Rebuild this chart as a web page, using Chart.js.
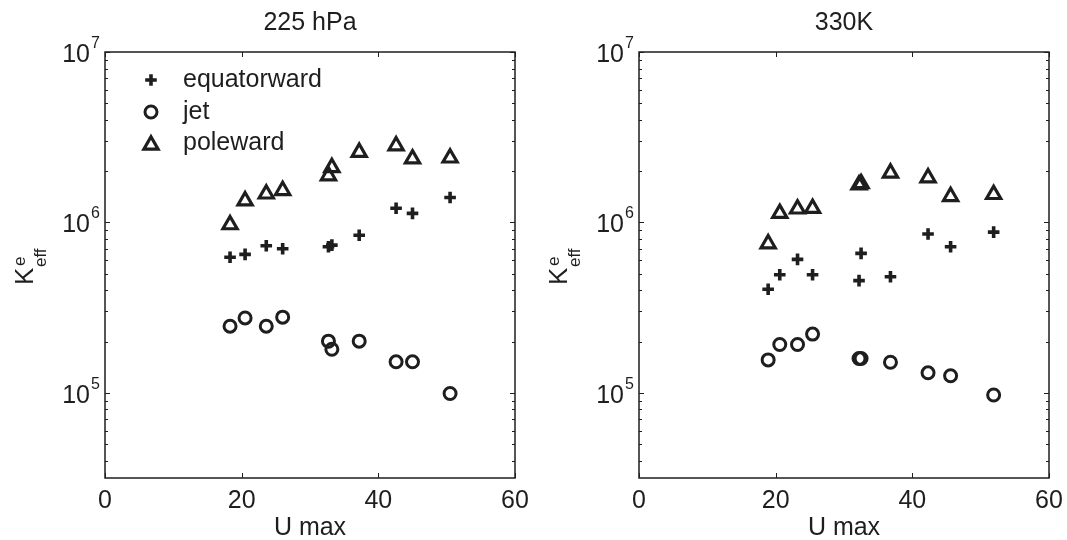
<!DOCTYPE html>
<html>
<head>
<meta charset="utf-8">
<script src="https://cdn.jsdelivr.net/npm/chart.js@4.4.1/dist/chart.umd.min.js"></script>
<style>
  html, body { margin: 0; padding: 0; background: #fff; }
  body { width: 1067px; height: 540px; position: relative; overflow: hidden; }
  canvas { position: absolute; top: 0; }
  #c1 { left: 0; }
  #c2 { left: 534px; }
</style>
</head>
<body>
<canvas id="c1" width="533" height="540"></canvas>
<canvas id="c2" width="533" height="540"></canvas>
<script>
// ---------- data ----------
const panelTitles = ['225 hPa', '330K'];
const seriesNames = ['equatorward', 'jet', 'poleward'];
const xTickValues = [0, 20, 40, 60];
const yTickExponents = [5, 6, 7];
const xAxisTitle = 'U max';

// 225 hPa panel
const uMax225 = [18.3, 20.5, 23.6, 26.0, 32.7, 33.2, 37.2, 42.6, 45.0, 50.5];
const equatorward225 = [6.24e5, 6.49e5, 7.3e5, 7.0e5, 7.2e5, 7.36e5, 8.4e5, 1.21e6, 1.13e6, 1.40e6];
const jet225 = [2.46e5, 2.75e5, 2.46e5, 2.78e5, 2.01e5, 1.80e5, 2.01e5, 1.52e5, 1.52e5, 9.9e4];
const poleward225 = [9.7e5, 1.34e6, 1.47e6, 1.54e6, 1.88e6, 2.10e6, 2.58e6, 2.82e6, 2.36e6, 2.39e6];

// 330K panel
const uMax330 = [18.9, 20.6, 23.2, 25.4, 32.2, 32.5, 36.8, 42.3, 45.6, 51.9];
const equatorward330 = [4.05e5, 4.93e5, 6.07e5, 4.93e5, 4.55e5, 6.58e5, 4.80e5, 8.55e5, 7.2e5, 8.77e5];
const jet330 = [1.56e5, 1.92e5, 1.92e5, 2.21e5, 1.59e5, 1.59e5, 1.51e5, 1.31e5, 1.26e5, 9.7e4];
const poleward330 = [7.5e5, 1.13e6, 1.20e6, 1.21e6, 1.66e6, 1.69e6, 1.95e6, 1.83e6, 1.42e6, 1.46e6];

// ---------- helpers ----------
const INK = '#1e1e1e';
const FONT = '"Liberation Sans", Arial, Helvetica, sans-serif';

function pts(xs, ys) { return xs.map((x, i) => ({ x: x, y: ys[i] })); }

const markerStyles = [
  { pointStyle: 'cross', pointRadius: 5.8, borderWidth: 3.6 },
  { pointStyle: 'circle', pointRadius: 6, borderWidth: 3 },
  { pointStyle: 'triangle', pointRadius: 8.2, borderWidth: 3.2 }
];

function makeDatasets(xs, seriesList) {
  return seriesList.map((ys, i) => ({
    label: seriesNames[i],
    data: pts(xs, ys),
    pointStyle: markerStyles[i].pointStyle,
    pointRadius: markerStyles[i].pointRadius,
    pointHoverRadius: markerStyles[i].pointRadius,
    pointBorderWidth: markerStyles[i].borderWidth,
    borderColor: INK,
    pointBorderColor: INK,
    backgroundColor: 'rgba(0,0,0,0)',
    pointBackgroundColor: 'rgba(0,0,0,0)',
    showLine: false
  }));
}

const decorPlugin = {
  id: 'decor',
  afterDatasetsDraw(chart, args, opts) {
    const ctx = chart.ctx;
    const a = chart.chartArea;
    const xs = chart.scales.x, ys = chart.scales.y;
    ctx.save();
    ctx.strokeStyle = INK;
    ctx.fillStyle = INK;
    // box
    ctx.lineWidth = 1.5;
    ctx.strokeRect(a.left, a.top, a.right - a.left, a.bottom - a.top);
    // x ticks (inward, top & bottom)
    ctx.lineWidth = 1;
    xTickValues.forEach(v => {
      const px = Math.round(xs.getPixelForValue(v)) + 0.5;
      ctx.beginPath();
      ctx.moveTo(px, a.bottom); ctx.lineTo(px, a.bottom - 5);
      ctx.moveTo(px, a.top); ctx.lineTo(px, a.top + 5);
      ctx.stroke();
    });
    // y ticks major & minor (inward, left & right)
    const lo = Math.floor(Math.log10(ys.min)), hi = Math.ceil(Math.log10(ys.max));
    for (let d = lo; d <= hi; d++) {
      for (let m = 1; m <= 9; m++) {
        const v = m * Math.pow(10, d);
        if (v < ys.min * 0.999 || v > ys.max * 1.001) continue;
        const py = Math.round(ys.getPixelForValue(v)) + 0.5;
        const len = m === 1 ? 5 : 3;
        ctx.beginPath();
        ctx.moveTo(a.left, py); ctx.lineTo(a.left + len, py);
        ctx.moveTo(a.right, py); ctx.lineTo(a.right - len, py);
        ctx.stroke();
      }
    }
    // x tick labels
    ctx.font = '25px ' + FONT;
    ctx.textAlign = 'center';
    ctx.textBaseline = 'alphabetic';
    xTickValues.forEach(v => {
      ctx.fillText(String(v), xs.getPixelForValue(v), 508);
    });
    // x axis title
    ctx.fillText(xAxisTitle, (a.left + a.right) / 2, 535);
    // panel title
    ctx.fillText(opts.title, (a.left + a.right) / 2, 30);
    // y tick labels 10^n
    yTickExponents.forEach(e => {
      const py = ys.getPixelForValue(Math.pow(10, e));
      ctx.font = '25px ' + FONT;
      ctx.textAlign = 'right';
      ctx.fillText('10', a.left - 15, py + 10);
      ctx.font = '16px ' + FONT;
      ctx.textAlign = 'left';
      ctx.fillText(String(e), a.left - 14, py - 4);
    });
    // y axis title K_eff^e
    ctx.save();
    ctx.translate(33, 285);
    ctx.rotate(-Math.PI / 2);
    ctx.textAlign = 'left';
    ctx.font = '26px ' + FONT;
    ctx.fillText('K', 0, 0);
    ctx.font = '17px ' + FONT;
    ctx.fillText('e', 19, -8);
    ctx.fillText('eff', 18, 13);
    ctx.restore();
    // legend
    if (opts.legend) {
      const rows = [80, 112, 143];
      chart.data.datasets.forEach((ds, i) => {
        ctx.lineWidth = ds.pointBorderWidth;
        ctx.strokeStyle = INK;
        ctx.fillStyle = 'rgba(0,0,0,0)';
        Chart.helpers.drawPoint(ctx, {
          pointStyle: ds.pointStyle,
          radius: ds.pointRadius,
          rotation: 0,
          borderWidth: ds.pointBorderWidth
        }, 151, rows[i] + (ds.pointStyle === 'triangle' ? 2 : 0));
        ctx.fillStyle = INK;
        ctx.font = '25px ' + FONT;
        ctx.textAlign = 'left';
        ctx.textBaseline = 'middle';
        ctx.fillText(ds.label, 183, rows[i]);
        ctx.textBaseline = 'alphabetic';
      });
    }
    ctx.restore();
  }
};

function makeChart(id, title, xs, seriesList, showLegend) {
  return new Chart(document.getElementById(id), {
    type: 'scatter',
    data: { datasets: makeDatasets(xs, seriesList) },
    options: {
      responsive: false,
      animation: false,
      devicePixelRatio: 1,
      layout: { padding: { left: 105, right: 18, top: 52, bottom: 62 } },
      plugins: {
        legend: { display: false },
        tooltip: { enabled: false },
        title: { display: false },
        decor: { title: title, legend: showLegend }
      },
      scales: {
        x: {
          type: 'linear', min: 0, max: 60,
          ticks: { display: false },
          grid: { display: false, drawTicks: false },
          border: { display: false }
        },
        y: {
          type: 'logarithmic', min: Math.pow(10, 4.5), max: 1e7,
          ticks: { display: false },
          grid: { display: false, drawTicks: false },
          border: { display: false }
        }
      }
    },
    plugins: [decorPlugin]
  });
}

makeChart('c1', panelTitles[0], uMax225, [equatorward225, jet225, poleward225], true);
makeChart('c2', panelTitles[1], uMax330, [equatorward330, jet330, poleward330], false);
</script>
</body>
</html>
